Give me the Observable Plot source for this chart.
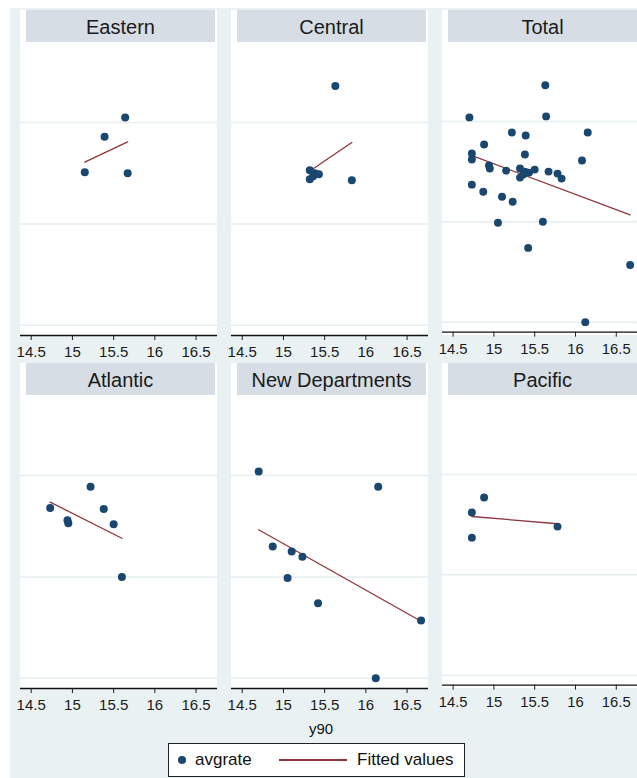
<!DOCTYPE html>
<html>
<head>
<meta charset="utf-8">
<script src="https://cdn.jsdelivr.net/npm/d3@7"></script>
<script src="https://cdn.jsdelivr.net/npm/@observablehq/plot@0.6"></script>
<style>
  body { margin: 0; background: white; }
  #wrap { position: relative; width: 637px; height: 778px; overflow: hidden; background: white;
          font-family: "Liberation Sans", Arial, sans-serif; }
  .bg { position: absolute; left: 10px; top: 8px; right: 0; bottom: 0; background: #e9f1f3; }
  .plotbg { position: absolute; background: white; }
  .hdr { position: absolute; background: #d6dde4; color: #1a1a1a; font-size: 20px; text-align: center; }
  .svgbox { position: absolute; }
  #xlab { position: absolute; left: 271px; width: 100px; top: 720px; text-align: center; font-size: 15px; color: #111; }
  #legend { position: absolute; left: 168px; top: 743px; width: 295px; height: 32px; background: white;
            border: 1px solid #222; font-size: 17px; color: #111; }
  #legend .dot { position: absolute; left: 9px; top: 12px; width: 8px; height: 8px; border-radius: 50%; background: #1a476f; }
  #legend .t1 { position: absolute; left: 26px; top: 6px; }
  #legend .ln { position: absolute; left: 110px; top: 15px; width: 68px; height: 0; border-top: 2px solid #90353b; }
  #legend .t2 { position: absolute; left: 188px; top: 6px; }
</style>
</head>
<body>
<div id="wrap">
  <div class="bg"></div>
  <div id="xlab">y90</div>
  <div id="legend">
    <div class="dot"></div><div class="t1">avgrate</div>
    <div class="ln"></div><div class="t2">Fitted values</div>
  </div>
</div>
<script>
// ---- data (y axis labels are cropped away) ----
const panelNames = ["Eastern", "Central", "Total", "Atlantic", "New Departments", "Pacific"];
const xTicks = [14.5, 15, 15.5, 16, 16.5];
const yGrid = [0, 1, 2];

const easternY90  = [15.15, 15.39, 15.64, 15.67];
const easternRate = [1.51, 1.86, 2.05, 1.50];

const centralY90  = [15.32, 15.32, 15.36, 15.38, 15.43, 15.63, 15.83];
const centralRate = [1.53, 1.44, 1.47, 1.50, 1.49, 2.36, 1.43];

const atlanticY90  = [14.73, 14.94, 14.95, 15.22, 15.38, 15.50, 15.60];
const atlanticRate = [1.68, 1.56, 1.53, 1.89, 1.67, 1.52, 1.00];

const newDepY90  = [14.70, 14.87, 15.05, 15.10, 15.23, 15.42, 16.12, 16.15, 16.67];
const newDepRate = [2.04, 1.30, 0.99, 1.25, 1.20, 0.74, 0.00, 1.89, 0.57];

const pacificY90  = [14.73, 14.73, 14.88, 15.78];
const pacificRate = [1.62, 1.37, 1.77, 1.48];

// one observation that appears only in the Total panel
const totalOnlyY90  = [16.08];
const totalOnlyRate = [1.61];

// ---- build tables ----
function rows(xs, ys) { return xs.map((x, i) => ({y90: x, avgrate: ys[i]})); }
const regions = {
  "Eastern": rows(easternY90, easternRate),
  "Central": rows(centralY90, centralRate),
  "Atlantic": rows(atlanticY90, atlanticRate),
  "New Departments": rows(newDepY90, newDepRate),
  "Pacific": rows(pacificY90, pacificRate)
};
regions["Total"] = [].concat(
  regions["Eastern"], regions["Central"], regions["Atlantic"],
  regions["New Departments"], regions["Pacific"], rows(totalOnlyY90, totalOnlyRate));

const wrap = document.getElementById("wrap");
const PW = 197, COLSTEP = 211, ROWSTEP = 353;

panelNames.forEach((name, i) => {
  const col = i % 3, row = Math.floor(i / 3);
  const x0 = 20 + COLSTEP * col, y0 = 10 + ROWSTEP * row;

  const bg = document.createElement("div");
  bg.className = "plotbg";
  Object.assign(bg.style, {left: x0 + "px", top: y0 + "px", width: PW + "px", height: "325px"});
  wrap.appendChild(bg);

  const data = regions[name];
  const chart = Plot.plot({
    width: PW, height: 352,
    marginLeft: 0, marginRight: 0, marginTop: 36, marginBottom: 27,
    style: {background: "transparent", overflow: "visible", fontSize: "15px",
            fontFamily: "'Liberation Sans', Arial, sans-serif", color: "#1a1a1a"},
    x: {domain: [14.37, 16.76], label: null},
    y: {domain: [-0.1, 2.75], axis: null, label: null},
    marks: [
      Plot.gridY(yGrid, {stroke: "#e6eef1", strokeOpacity: 1, strokeWidth: 1.5}),
      Plot.ruleY([-0.1], {stroke: "#111", strokeWidth: 1.3}),
      Plot.axisX(xTicks, {tickSize: 5, tickPadding: 6, tickFormat: d => String(d), fontSize: 15}),
      Plot.linearRegressionY(data, {x: "y90", y: "avgrate", ci: 0, stroke: "#90353b", strokeWidth: 1.3}),
      Plot.dot(data, {x: "y90", y: "avgrate", r: 4, fill: "#1a476f", stroke: "none"})
    ]
  });
  const box = document.createElement("div");
  box.className = "svgbox";
  Object.assign(box.style, {left: x0 + "px", top: y0 + "px"});
  box.appendChild(chart);
  wrap.appendChild(box);

  const hdr = document.createElement("div");
  hdr.className = "hdr";
  hdr.textContent = name;
  Object.assign(hdr.style, {left: (x0 + 6) + "px", top: y0 + "px", width: "189px", height: "32px", lineHeight: "34px"});
  wrap.appendChild(hdr);
});
</script>
</body>
</html>
